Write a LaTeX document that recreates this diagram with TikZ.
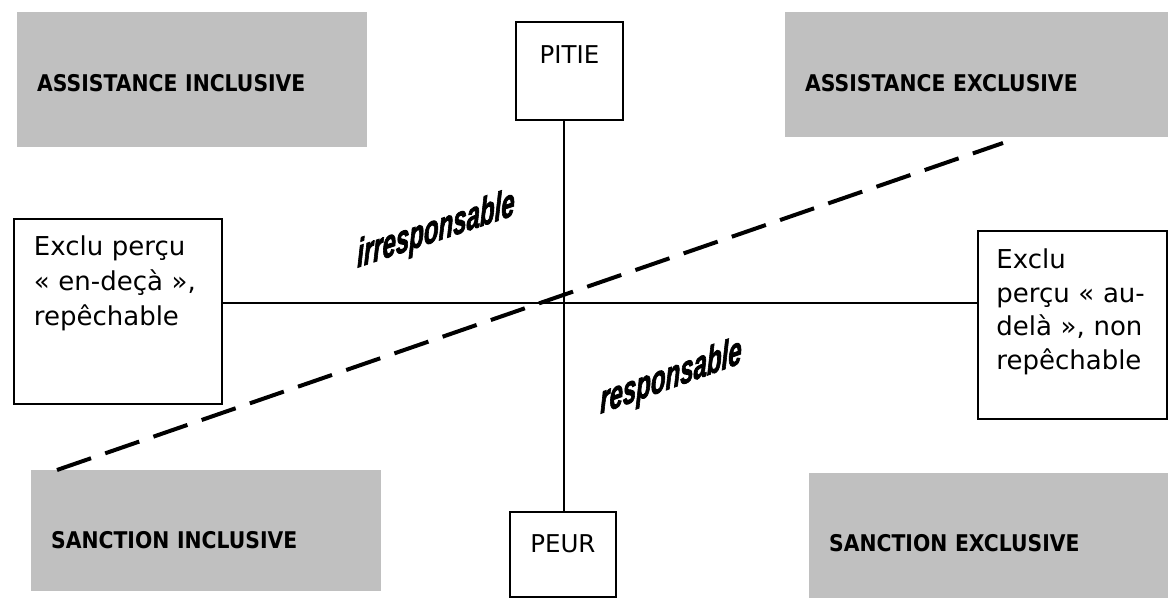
\documentclass[tikz,border=0pt]{standalone}
\usepackage{fontspec}
\setmainfont{DejaVu Sans}
\newfontfamily\zonefont{DejaVu Sans}[FakeStretch=0.885]
\newfontfamily\wordart{Liberation Sans}[FakeBold=2.5]
\usepackage{tikz}
\usetikzlibrary{positioning}
\definecolor{zonegray}{RGB}{192,192,192}

\begin{document}
\begin{tikzpicture}[x=1pt,y=-1pt,
    zone/.style={fill=zonegray,anchor=north west,inner xsep=20pt,inner ysep=0pt,align=left,
      font=\zonefont\bfseries\fontsize{23}{27}\selectfont},
    frame/.style={draw,line width=1.8pt,anchor=north west,inner ysep=0pt,
      font=\fontsize{26}{35}\selectfont},
    tag/.style={font=\wordart\bfseries\itshape\fontsize{40}{40}\selectfont,xscale=0.6}]
  \useasboundingbox (0,0) rectangle (1168,599);
  % the four grey quadrants
  \node[zone,text width=310pt,text height=79pt,text depth=56pt] (assinc) at (17,12) {ASSISTANCE INCLUSIVE};
  \node[zone,text width=343pt,text height=79pt,text depth=46pt] (assexc) at (785,12) {ASSISTANCE EXCLUSIVE};
  \node[zone,text width=310pt,text height=78pt,text depth=43pt] (sancinc) at (31,470) {SANCTION INCLUSIVE};
  \node[zone,text width=319pt,text height=78pt,text depth=47pt] (sancexc) at (809,473) {SANCTION EXCLUSIVE};
  % the axes
  \node[frame,minimum width=107pt,text height=42pt,text depth=56pt,font=\fontsize{24.5}{28}\selectfont] (pitie) at (515,21) {PITIE};
  \node[frame,minimum width=106pt,text height=41pt,text depth=44pt,font=\fontsize{24.5}{28}\selectfont] (peur) at (509,511) {PEUR};
  \node[frame,text width=168pt,inner xsep=20pt,align=left,text height=37pt,text depth=148pt] (endeca) at (13,218)
    {Exclu perçu\\« en-deçà »,\\repêchable};
  \node[frame,text width=152pt,inner xsep=18.5pt,align=left,text height=38pt,text depth=150pt,
    font=\fontsize{26}{33.5}\selectfont] (audela) at (977,230)
    {Exclu\\perçu « au-\\delà », non\\repêchable};
  \coordinate (mid) at (564,303);
  \draw[line width=1.8pt] (mid -| endeca.east) -- (mid -| audela.west);
  \draw[line width=1.8pt] (mid |- pitie.south) -- (mid |- peur.north);
  % responsibility split
  \coordinate (low) at (57,470);
  \coordinate (high) at (1003,143);
  \draw[line width=4pt,dash pattern=on 36pt off 15pt] (low) -- (high);
  \node[tag,yslant=0.2] (irr) at (436,231) {irresponsable};
  \node[tag,yslant=0.215] (resp) at (671,378) {responsable};
\end{tikzpicture}
\end{document}
